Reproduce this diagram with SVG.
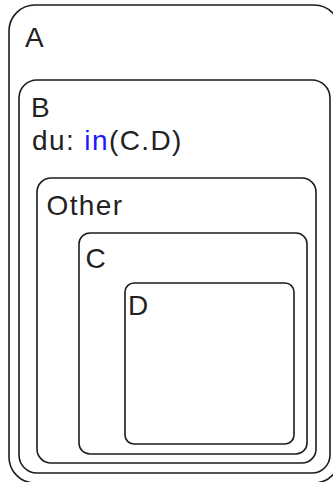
<svg xmlns="http://www.w3.org/2000/svg" width="333" height="482" viewBox="0 0 333 482">
<style>
.st{fill:none;stroke:#1c1c1c;stroke-width:1.6}
.lb{font-family:"Liberation Sans",Arial,sans-serif;font-size:28px;fill:#222222;letter-spacing:1.4px}
.kw{fill:#1a1aff}
</style>
<rect width="333" height="482" fill="#ffffff"/>
<g id="A">
<rect class="st" x="9" y="5" width="331" height="478" rx="26"/>
<text class="lb" x="25" y="47">A</text>
</g>
<g id="B">
<rect class="st" x="19" y="80" width="311" height="393" rx="18"/>
<text class="lb" x="31" y="117">B</text>
<text class="lb" x="32" y="150">du: <tspan class="kw">in</tspan>(C.D)</text>
</g>
<g id="Other">
<rect class="st" x="37" y="178" width="279" height="285" rx="14"/>
<text class="lb" x="46.5" y="215">Other</text>
</g>
<g id="C">
<rect class="st" x="79" y="233" width="228" height="221" rx="11"/>
<text class="lb" x="85.5" y="268">C</text>
</g>
<g id="D">
<rect class="st" x="125" y="283" width="169" height="161" rx="9"/>
<text class="lb" x="128" y="315">D</text>
</g>
<g id="connectors"></g>
</svg>
